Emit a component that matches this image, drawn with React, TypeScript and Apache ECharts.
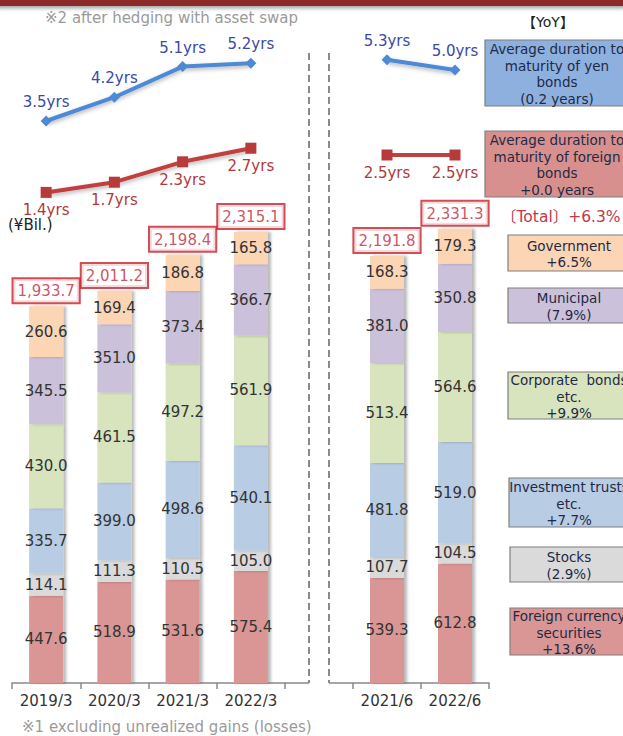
import React, { useEffect, useRef } from "react";
import * as echarts from "echarts";

// Fiscal-period categories: year-end (left block) and quarter-end (right block)
const categoriesLeft = ["2019/3", "2020/3", "2021/3", "2022/3"];
const categoriesRight = ["2021/6", "2022/6"];

// Securities balance by type (¥Bil.), in category order: 2019/3 … 2022/3, 2021/6, 2022/6
const foreignCurrency = [447.6, 518.9, 531.6, 575.4, 539.3, 612.8];
const stocks = [114.1, 111.3, 110.5, 105.0, 107.7, 104.5];
const investmentTrusts = [335.7, 399.0, 498.6, 540.1, 481.8, 519.0];
const corporateBonds = [430.0, 461.5, 497.2, 561.9, 513.4, 564.6];
const municipal = [345.5, 351.0, 373.4, 366.7, 381.0, 350.8];
const government = [260.6, 169.4, 186.8, 165.8, 168.3, 179.3];
const totals = [1933.7, 2011.2, 2198.4, 2315.1, 2191.8, 2331.3];

// Average duration to maturity (years)
const yenDuration = [3.5, 4.2, 5.1, 5.2, 5.3, 5.0];
const foreignDuration = [1.4, 1.7, 2.3, 2.7, 2.5, 2.5];

// YoY legend captions
const yenBondNote = "Average duration to\nmaturity of yen\nbonds\n(0.2 years)";
const foreignBondNote = "Average duration to\nmaturity of foreign\nbonds\n+0.0 years";
const totalNote = "〔Total〕+6.3%";
const segmentNotes = [
  "Government\n+6.5%",
  "Municipal\n(7.9%)",
  "Corporate  bonds\netc.\n+9.9%",
  "Investment trusts\netc.\n+7.7%",
  "Stocks\n(2.9%)",
  "Foreign currency\nsecurities\n+13.6%",
];

const FONT = '"DejaVu Sans", Verdana, "Noto Sans CJK JP", sans-serif';
const COLORS = {
  foreign: "#da9694",
  stocks: "#dadada",
  trusts: "#b8cce4",
  corporate: "#d8e4bd",
  municipal: "#ccc1da",
  government: "#fcd5b5",
  yenLine: "#4d89d4",
  foreignLine: "#c04141",
  totalRed: "#c0283a",
};

export default function App() {
  const ref = useRef<HTMLDivElement>(null);

  useEffect(() => {
    if (!ref.current) return;
    const chart = echarts.init(ref.current, undefined, { renderer: "svg" });

    const nLeft = categoriesLeft.length;
    const left = (arr: number[]) => arr.slice(0, nLeft);
    const right = (arr: number[]) => arr.slice(nLeft);

    const segments = [
      { name: "Foreign currency securities", data: foreignCurrency, color: COLORS.foreign },
      { name: "Stocks", data: stocks, color: COLORS.stocks },
      { name: "Investment trusts etc.", data: investmentTrusts, color: COLORS.trusts },
      { name: "Corporate bonds etc.", data: corporateBonds, color: COLORS.corporate },
      { name: "Municipal", data: municipal, color: COLORS.municipal },
      { name: "Government", data: government, color: COLORS.government },
    ];

    const barSeries: any[] = [];
    [0, 1].forEach((side) => {
      segments.forEach((s) => {
        barSeries.push({
          type: "bar",
          name: s.name,
          xAxisIndex: side,
          yAxisIndex: side,
          stack: side === 0 ? "left" : "right",
          barWidth: 34,
          data: side === 0 ? left(s.data) : right(s.data),
          itemStyle: {
            color: s.color,
            shadowColor: "rgba(0,0,0,0.28)",
            shadowBlur: 3,
            shadowOffsetX: 3,
          },
          label: {
            show: true,
            position: "inside",
            color: "#333",
            fontSize: 15,
            fontFamily: FONT,
            formatter: (p: any) => Number(p.value).toFixed(1),
          },
        });
      });
      // Total above each stack
      barSeries.push({
        type: "scatter",
        xAxisIndex: side,
        yAxisIndex: side,
        symbolSize: 0,
        data: side === 0 ? left(totals) : right(totals),
        label: {
          show: true,
          position: "top",
          distance: 4,
          color: COLORS.totalRed,
          fontSize: 15,
          fontFamily: FONT,
          backgroundColor: "#fff",
          borderColor: "#c8202c",
          borderWidth: 2,
          padding: [3, 4, 2, 4],
          lineHeight: 18,
          formatter: (p: any) =>
            Number(p.value).toLocaleString("en-US", {
              minimumFractionDigits: 1,
              maximumFractionDigits: 1,
            }),
        },
      });
    });

    const lineShadow = {
      shadowColor: "rgba(0,0,0,0.3)",
      shadowBlur: 4,
      shadowOffsetY: 2,
    };

    const lineSeries: any[] = [];
    [0, 1].forEach((side) => {
      lineSeries.push({
        type: "line",
        name: "Yen bonds duration",
        xAxisIndex: side + 2,
        yAxisIndex: side + 2,
        data: side === 0 ? left(yenDuration) : right(yenDuration),
        symbol: "diamond",
        symbolSize: 11,
        lineStyle: { color: COLORS.yenLine, width: 4, ...lineShadow },
        itemStyle: { color: COLORS.yenLine },
        label: {
          show: true,
          position: "top",
          distance: 6,
          color: "#3a4aa6",
          fontSize: 15,
          fontFamily: FONT,
          formatter: (p: any) => `${Number(p.value).toFixed(1)}yrs`,
        },
      });
      lineSeries.push({
        type: "line",
        name: "Foreign bonds duration",
        xAxisIndex: side + 2,
        yAxisIndex: side + 2,
        data: side === 0 ? left(foreignDuration) : right(foreignDuration),
        symbol: "rect",
        symbolSize: 11,
        // a flat segment has a zero-height box, so it gets no filter shadow
        lineStyle:
          side === 0
            ? { color: COLORS.foreignLine, width: 4, ...lineShadow }
            : { color: COLORS.foreignLine, width: 4 },
        itemStyle: { color: "#b83a3a" },
        label: {
          show: true,
          position: "bottom",
          distance: 5,
          color: "#b03a3a",
          fontSize: 15,
          fontFamily: FONT,
          formatter: (p: any) => `${Number(p.value).toFixed(1)}yrs`,
        },
      });
    });

    const barAxis = (data: string[], gridIndex: number) => ({
      type: "category",
      gridIndex,
      data,
      axisLine: { show: true, lineStyle: { color: "#8a8a8a", width: 1.5 } },
      axisTick: { show: true, length: 6, lineStyle: { color: "#8a8a8a", width: 1.5 } },
      axisLabel: { color: "#333", fontSize: 15, fontFamily: FONT, margin: 10, interval: 0 },
    });
    const lineAxis = (data: string[], gridIndex: number) => ({
      type: "category",
      gridIndex,
      data,
      show: false,
    });
    const valueAxis = (gridIndex: number, max: number) => ({
      type: "value",
      gridIndex,
      min: 0,
      max,
      show: false,
      splitLine: { show: false },
    });

    // Boxed caption helper for the YoY column
    const noteBox = (
      x: number,
      y: number,
      w: number,
      h: number,
      fill: string,
      text: string,
      cx: number
    ) => [
      {
        type: "rect",
        shape: { x, y, width: w, height: h },
        style: { fill, stroke: "#7f7f7f", lineWidth: 1.2 },
      },
      {
        type: "text",
        style: {
          text,
          x: cx,
          y: y + h / 2 + 1,
          align: "center",
          verticalAlign: "middle",
          fill: "#1f2a44",
          font: `13.5px ${FONT}`,
          lineHeight: 16.5,
        },
      },
    ];

    const dashed = { stroke: "#8a8a8a", lineWidth: 2, lineDash: [7, 4] };
    const axisGrey = { stroke: "#8a8a8a", lineWidth: 1.5 };

    const segmentBoxes = [
      { y: 235, h: 36, x: 508, fill: COLORS.government },
      { y: 288, h: 35, x: 508, fill: COLORS.municipal },
      { y: 372, h: 47, x: 508, fill: COLORS.corporate },
      { y: 478, h: 49, x: 509, fill: COLORS.trusts },
      { y: 547, h: 35, x: 510, fill: COLORS.stocks },
      { y: 608, h: 47, x: 510, fill: COLORS.foreign },
    ];

    chart.setOption({
      animation: false,
      backgroundColor: "#fff",
      grid: [
        { left: 12, width: 273, top: 1, bottom: 53 },
        { left: 353, width: 136, top: 1, bottom: 53 },
        { left: 12, width: 273, top: 36, bottom: 496 },
        { left: 353, width: 136, top: 36, bottom: 496 },
      ],
      xAxis: [
        barAxis(categoriesLeft, 0),
        barAxis(categoriesRight, 1),
        lineAxis(categoriesLeft, 2),
        lineAxis(categoriesRight, 3),
      ],
      yAxis: [valueAxis(0, 3500), valueAxis(1, 3500), valueAxis(2, 6), valueAxis(3, 6)],
      series: [...barSeries, ...lineSeries],
      graphic: [
        // header band
        {
          type: "rect",
          shape: { x: -6, y: -12, width: 635, height: 18, r: 6 },
          style: {
            fill: "#8c2b2b",
            shadowColor: "rgba(0,0,0,0.4)",
            shadowBlur: 4,
            shadowOffsetY: 2,
          },
        },
        {
          type: "text",
          style: {
            text: "※2 after hedging with asset swap",
            x: 45,
            y: 18,
            verticalAlign: "middle",
            fill: "#9a9a9a",
            font: `15px ${FONT}`,
          },
        },
        {
          type: "text",
          style: {
            text: "【YoY】",
            x: 548,
            y: 22,
            align: "center",
            verticalAlign: "middle",
            fill: "#222",
            font: `14px ${FONT}`,
          },
        },
        {
          type: "text",
          style: {
            text: "(¥Bil.)",
            x: 8,
            y: 225,
            verticalAlign: "middle",
            fill: "#222",
            font: `15px ${FONT}`,
          },
        },
        // break between the year-end and quarter-end blocks
        { type: "line", shape: { x1: 309, y1: 53, x2: 309, y2: 683 }, style: dashed },
        { type: "line", shape: { x1: 329, y1: 53, x2: 329, y2: 683 }, style: dashed },
        { type: "line", shape: { x1: 285, y1: 683, x2: 309, y2: 683 }, style: axisGrey },
        { type: "line", shape: { x1: 329, y1: 683, x2: 353, y2: 683 }, style: axisGrey },
        ...noteBox(485, 40, 145, 66, "#8db0df", yenBondNote, 557),
        ...noteBox(485, 131, 145, 66, "#d8908f", foreignBondNote, 557),
        {
          type: "text",
          style: {
            text: totalNote,
            x: 501,
            y: 217,
            verticalAlign: "middle",
            fill: "#c0394b",
            font: `15.5px ${FONT}`,
          },
        },
        ...segmentBoxes.flatMap((b, i) =>
          noteBox(b.x, b.y, 125, b.h, b.fill, segmentNotes[i], 569)
        ),
        {
          type: "text",
          style: {
            text: "※1 excluding unrealized gains (losses)",
            x: 22,
            y: 727,
            verticalAlign: "middle",
            fill: "#9a9a9a",
            font: `15px ${FONT}`,
          },
        },
      ],
    });

    return () => chart.dispose();
  }, []);

  return (
    <div
      ref={ref}
      style={{ position: "absolute", left: 0, top: 0, width: 623, height: 736 }}
    />
  );
}
